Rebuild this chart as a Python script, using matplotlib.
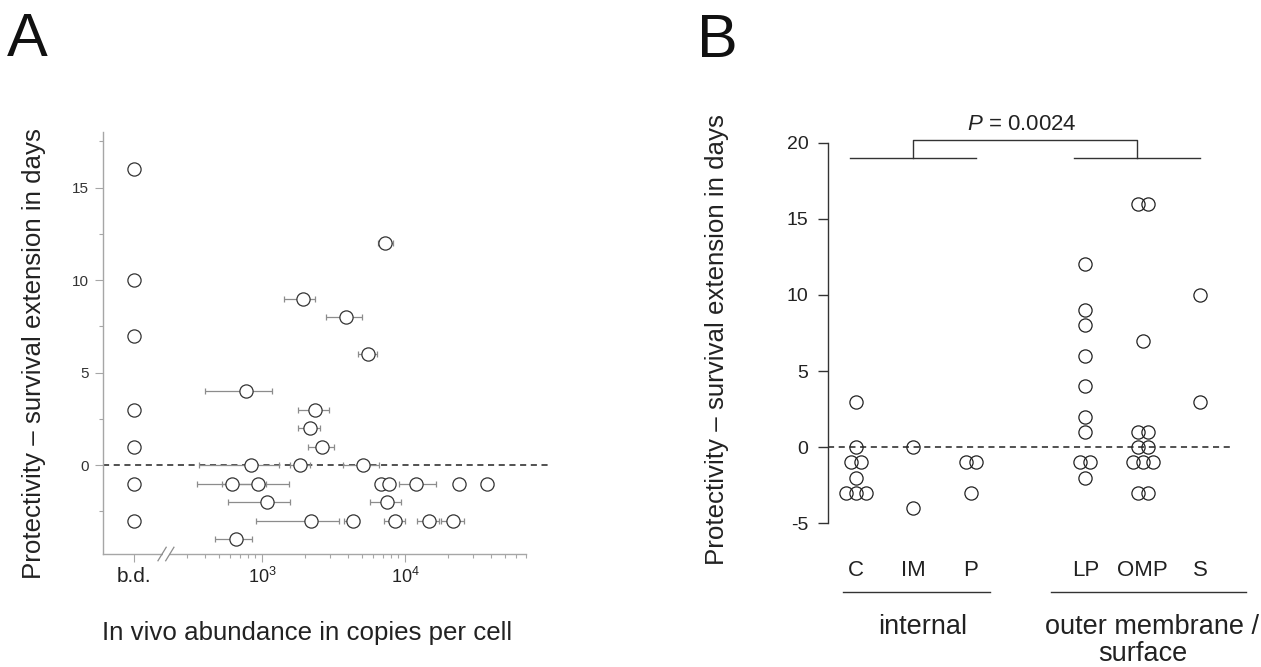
"""Protectivity vs. in vivo abundance (A) and vs. subcellular location (B)."""

import matplotlib
matplotlib.use("Agg")
import matplotlib.pyplot as plt
import matplotlib.transforms as mtransforms
from matplotlib.ticker import FixedLocator, NullFormatter
import numpy as np

plt.rcParams["font.family"] = ["Liberation Sans", "DejaVu Sans"]
plt.rcParams["mathtext.fontset"] = "custom"
plt.rcParams["mathtext.rm"] = "Liberation Sans"
plt.rcParams["mathtext.it"] = "Liberation Sans:italic"
plt.rcParams["axes.unicode_minus"] = False

W, H = 1261, 667

# ---- panel A data --------------------------------------------------------
# antigens below detection limit (b.d.)
bd_protect = [16, 10, 7, 3, 1, -1, -3]

# detected antigens: abundance (copies/cell), error range, protectivity (days)
abund = [7270, 1930, 3860, 5510, 776, 2350, 2150, 2610, 841, 1855, 5120,
         614, 942, 6790, 7770, 12000, 24000, 37400, 1080, 7510,
         2190, 4300, 8470, 14700, 21800, 655]
abund_lo = [6470, 1430, 2820, 4670, 399, 1800, 1780, 2110, 365, 1570, 3710,
            351, 525, 6300, 7400, 9120, 24000, 33800, 578, 5720,
            908, 3730, 7130, 12100, 17900, 471]
abund_hi = [8200, 2360, 4980, 6400, 1170, 2940, 2550, 3170, 1320, 2170, 6580,
            1070, 1545, 7300, 8200, 16500, 24000, 41000, 1580, 9370,
            3480, 4790, 10000, 17300, 25700, 847]
protect = [12, 9, 8, 6, 4, 3, 2, 1, 0, 0, 0,
           -1, -1, -1, -1, -1, -1, -1, -2, -2,
           -3, -3, -3, -3, -3, -4]

BD_POS = 127          # where the "b.d." column sits on the log axis
BREAK_POS = 213       # axis break marker
minor_x = [300, 400, 500, 600, 700, 800, 900,
           2000, 3000, 4000, 5000, 6000, 7000, 8000, 9000,
           20000, 30000, 40000, 50000, 60000, 70000]

# ---- panel B data --------------------------------------------------------
categories = ["C", "IM", "P", "LP", "OMP", "S"]
cat_pos = [0, 1, 2, 4, 5, 6]
cat_values = [
    [3, 0, -1, -1, -2, -3, -3, -3],
    [0, -4],
    [-1, -1, -3],
    [12, 9, 8, 6, 4, 2, 1, -1, -1, -2],
    [16, 16, 7, 1, 1, 0, 0, -1, -1, -1, -3, -3],
    [10, 3],
]
group_names = ["internal", "outer membrane /", "surface"]
p_text = "$P$ = 0.0024"


def swarm_offsets(values, step):
    """Spread points sharing a value symmetrically around the category."""
    values = np.asarray(values)
    offs = np.zeros(len(values))
    for v in np.unique(values):
        idx = np.where(values == v)[0]
        offs[idx] = (np.arange(len(idx)) - (len(idx) - 1) / 2) * step
    return offs


def px_axes(left, top, right, bottom):
    return [left / W, 1 - bottom / H, (right - left) / W, (bottom - top) / H]


fig = plt.figure(figsize=(W / 100, H / 100), dpi=100)

# ======================= panel A =======================
ax = fig.add_axes(px_axes(103, 132, 552, 554))
grey = "#a6a6a6"
ax.set_xscale("log")
ax.set_xlim(77.3, 1.067e5)
ax.set_ylim(-4.8, 18)

x = np.array(abund, dtype=float)
ax.errorbar(x, protect, xerr=[x - np.array(abund_lo), np.array(abund_hi) - x],
            fmt="none", ecolor="#8c8c8c", elinewidth=0.9, capsize=2.5,
            capthick=0.9, zorder=2)
ax.plot(x, protect, "o", mfc="white", mec="#333333", ms=9.5, mew=0.9,
        zorder=3, clip_on=False)
ax.plot([BD_POS] * len(bd_protect), bd_protect, "o", mfc="white",
        mec="#333333", ms=9.5, mew=0.9, zorder=3)
ax.axhline(0, color="#222222", lw=1.1, dashes=(4, 3), zorder=1)

for s in ("top", "right"):
    ax.spines[s].set_visible(False)
for s in ("left", "bottom"):
    ax.spines[s].set_color(grey)
    ax.spines[s].set_linewidth(1.0)
ax.spines["bottom"].set_bounds(77.3, 7e4)

ax.set_yticks([0, 5, 10, 15])
ax.set_yticks([-2.5, 2.5, 7.5, 12.5, 17.5], minor=True)
ax.tick_params(axis="y", which="major", length=6, width=0.8, color=grey,
               labelsize=11, labelcolor="#333333", pad=4)
ax.tick_params(axis="y", which="minor", length=2.8, width=0.8, color=grey)

ax.set_xticks([BD_POS, 1e3, 1e4], ["b.d.", "$10^3$", "$10^4$"])
xlabels = ax.get_xticklabels()
xlabels[0].set_fontsize(15)
for lab in xlabels[1:]:
    lab.set_fontsize(13)
ax.xaxis.set_minor_locator(FixedLocator(minor_x))
ax.xaxis.set_minor_formatter(NullFormatter())
ax.tick_params(axis="x", which="major", length=6, width=0.8, color=grey,
               labelcolor="#222222", pad=3)
ax.tick_params(axis="x", which="minor", length=2.8, width=0.8, color=grey)

# axis break "//"
trans = mtransforms.blended_transform_factory(ax.transData, ax.transAxes)
f = 10 ** 0.018
ax.plot([BREAK_POS / f ** 1.2, BREAK_POS * f ** 1.2], [0, 0], color="white",
        lw=3, transform=trans, clip_on=False, zorder=5, solid_capstyle="butt")
for k in (-1, 1):
    c = BREAK_POS * f ** (1.5 * k)
    ax.plot([c / f ** 1.6, c * f ** 1.6], [-0.016, 0.016], color="#8c8c8c",
            lw=0.9, transform=trans, clip_on=False, zorder=6)

fig.text(34 / W, 1 - 354 / H, "Protectivity \u2013 survival extension in days",
         rotation=90, ha="center", va="center", fontsize=18.6, color="#222222")
fig.text(307 / W, 1 - 633 / H, "In vivo abundance in copies per cell",
         ha="center", va="center", fontsize=18.6, color="#222222")
fig.text(7 / W, 1 - 56 / H, "A", ha="left", va="baseline", fontsize=44,
         color="#111111")

# ======================= panel B =======================
bx = fig.add_axes(px_axes(828, 142.7, 1230, 523.3))
bx.set_xlim(-0.488, 6.523)
bx.set_ylim(-5, 20)
dark = "#333333"
step = 0.175
for pos, vals in zip(cat_pos, cat_values):
    xs = pos + swarm_offsets(vals, step)
    bx.plot(xs, vals, "o", mfc="none", mec="#222222", ms=9.5, mew=0.9,
            zorder=3, clip_on=False)
bx.axhline(0, color="#222222", lw=1.1, dashes=(4, 3), zorder=1)

for s in ("top", "right", "bottom"):
    bx.spines[s].set_visible(False)
bx.spines["left"].set_color(dark)
bx.spines["left"].set_linewidth(1.0)
bx.set_yticks([-5, 0, 5, 10, 15, 20])
bx.tick_params(axis="y", length=7.2, width=1.0, color=dark, labelsize=14,
               labelcolor="#222222", pad=7)
bx.set_xticks([])

# significance bracket
line_kw = dict(color=dark, lw=1.0, clip_on=False)
bx.plot([-0.1, 2.1], [19, 19], **line_kw)
bx.plot([3.8, 6.0], [19, 19], **line_kw)
bx.plot([1.0, 1.0, 4.9, 4.9], [19, 20.2, 20.2, 19], **line_kw)
bx.text(2.9, 21.2, p_text, ha="center", va="center", fontsize=16,
        color="#222222")

btrans = mtransforms.blended_transform_factory(bx.transData, bx.transAxes)
for pos, name in zip(cat_pos, categories):
    bx.text(pos, -0.123, name, transform=btrans, ha="center", va="center",
            fontsize=16, color="#222222")
bx.plot([-0.22, 2.33], [-0.1805, -0.1805], color=dark, lw=1.0,
        transform=btrans, clip_on=False)
bx.plot([3.40, 6.80], [-0.1805, -0.1805], color=dark, lw=1.0,
        transform=btrans, clip_on=False)
bx.text(1.16, -0.272, group_names[0], transform=btrans, ha="center",
        va="center", fontsize=19.5, color="#222222")
bx.text(5.16, -0.272, group_names[1], transform=btrans, ha="center",
        va="center", fontsize=19.5, color="#222222")
bx.text(5.0, -0.343, group_names[2], transform=btrans, ha="center",
        va="center", fontsize=19.5, color="#222222")

fig.text(717 / W, 1 - 340 / H, "Protectivity \u2013 survival extension in days",
         rotation=90, ha="center", va="center", fontsize=18.6, color="#222222")
fig.text(697 / W, 1 - 57 / H, "B", ha="left", va="baseline", fontsize=44,
         color="#111111")

fig.savefig("out.png", dpi=100)
